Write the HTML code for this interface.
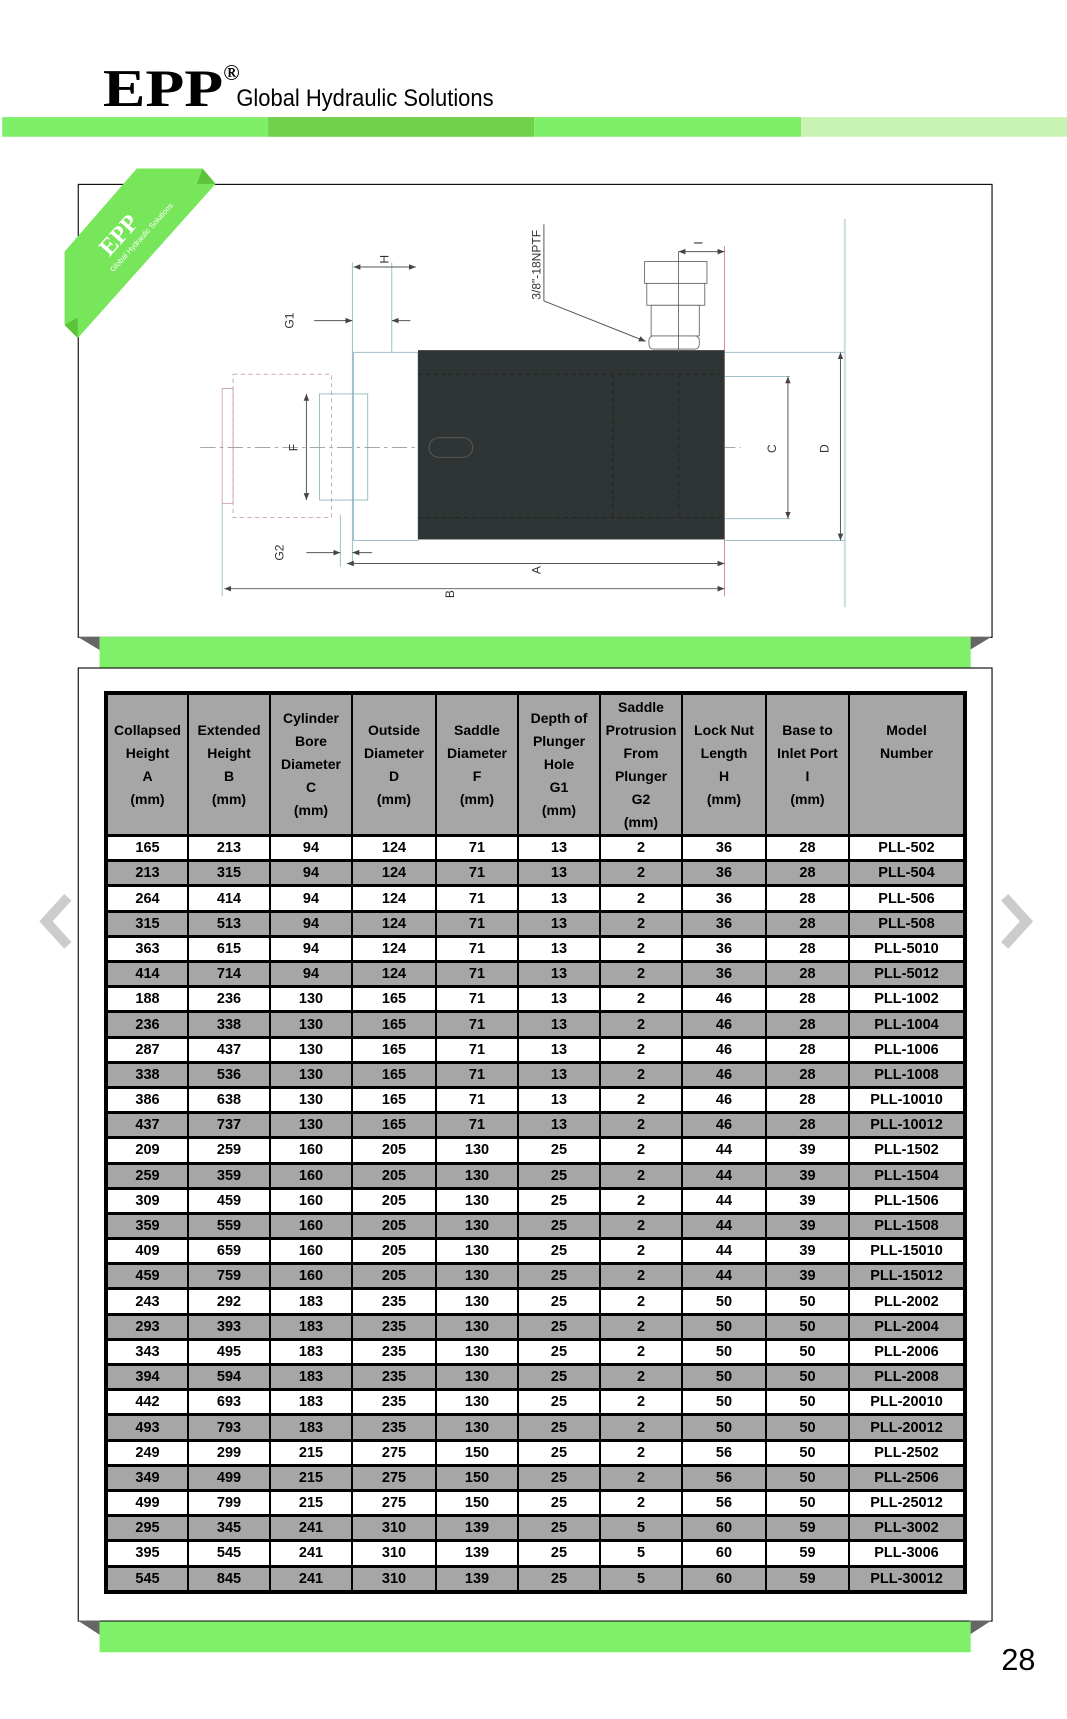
<!DOCTYPE html>
<html><head><meta charset="utf-8"><style>
html,body{margin:0;padding:0;background:#fff;}
body{width:1067px;height:1719px;position:relative;overflow:hidden;font-family:"Liberation Sans",sans-serif;}
svg.bg{position:absolute;left:0;top:0;}
table{position:absolute;left:104px;top:691px;width:863px;height:903px;border-collapse:collapse;table-layout:fixed;border:4px solid #000;
font-family:"Liberation Sans Narrow","Liberation Sans",sans-serif;font-weight:bold;font-size:14.5px;text-align:center;color:#000;}
td,th{border:2px solid #000;border-top:3px solid #000;padding:0;}
th{background:#a6a6a6;height:136px;line-height:23px;font-size:14px;}
td{height:22px;line-height:20px;}
tr.g td{background:#a6a6a6;}
</style></head><body>
<svg class="bg" width="1067" height="1719" viewBox="0 0 975 1571" preserveAspectRatio="none">
<defs>
<marker id="ar" viewBox="0 0 10 10" refX="10" refY="5" markerWidth="7" markerHeight="7" orient="auto-start-reverse"><path d="M0,1 L10,5 L0,9 z" fill="#444"/></marker>
</defs>
<text x="94" y="97" font-family="Liberation Serif" font-weight="bold" font-size="48" textLength="110" lengthAdjust="spacingAndGlyphs">EPP</text>
<text x="204" y="73" font-family="Liberation Serif" font-weight="bold" font-size="20">®</text>
<text x="216" y="97" font-family="Liberation Sans Narrow,Liberation Sans" font-size="22" textLength="235" lengthAdjust="spacingAndGlyphs">Global Hydraulic Solutions</text>
<rect x="2" y="107" width="243" height="18" fill="#7fef6a"/>
<rect x="245" y="107" width="243" height="18" fill="#6fd24a"/>
<rect x="488" y="107" width="244" height="18" fill="#7fef6a"/>
<rect x="732" y="107" width="243" height="18" fill="#c9f3b5"/>
<rect x="71.5" y="168.5" width="835" height="414" fill="#fff" stroke="#000" stroke-width="1"/>
<polygon points="71,582 91,582 91,594" fill="#666"/>
<polygon points="906,582 886,582 886,594" fill="#666"/>
<rect x="91" y="582" width="796" height="28" fill="#80f06a"/>
<polygon points="125,154 185,154 197,168 71,309 59,297 59,230" fill="#78e65a"/>
<polygon points="185,154 197,168 180,168" fill="#5cc43a"/>
<polygon points="59,297 71,309 71,290" fill="#5cc43a"/>
<g transform="translate(100,235) rotate(-48)"><text x="0" y="0" fill="#fff" font-family="Liberation Serif" font-weight="bold" font-size="22">EPP</text><text x="-8" y="12" fill="#fff" font-size="7">Global Hydraulic Solutions</text></g>
<g fill="none" stroke="#8fb8c0" stroke-width="0.8">
<rect x="323" y="322" width="59" height="172"/>
<rect x="213" y="342" width="90" height="131" stroke-dasharray="4,3" stroke="#c9a0a0"/>
<rect x="203" y="355" width="10" height="105" stroke="#c9a0a0"/>
<rect x="292" y="360" width="44" height="97"/>
<line x1="183" y1="409" x2="677" y2="409" stroke="#999" stroke-dasharray="14,4,3,4"/>
<line x1="322" y1="240" x2="322" y2="515"/>
<line x1="358" y1="240" x2="358" y2="322"/>
<line x1="311" y1="470" x2="311" y2="518"/>
<line x1="203" y1="460" x2="203" y2="545"/>
<line x1="662" y1="225" x2="662" y2="545" stroke="#d08080"/>
<line x1="772" y1="200" x2="772" y2="555" stroke="#cfdfe3" stroke-width="2"/>
<line x1="662" y1="322" x2="772" y2="322"/>
<line x1="662" y1="494" x2="772" y2="494"/>
<line x1="662" y1="344" x2="722" y2="344"/>
<line x1="662" y1="474" x2="722" y2="474"/>
</g>
<rect x="382" y="320" width="280" height="173" fill="#2f3434"/>
<g stroke="#222" stroke-width="0.8" fill="none" stroke-dasharray="4,3">
<line x1="382" y1="342" x2="662" y2="342"/><line x1="382" y1="473" x2="662" y2="473"/>
<line x1="560" y1="342" x2="560" y2="473"/><line x1="620" y1="342" x2="620" y2="473"/>
</g>
<rect x="392" y="400" width="40" height="18" rx="9" fill="none" stroke="#555"/>
<g fill="#fff" stroke="#666" stroke-width="0.8">
<rect x="589" y="239" width="57" height="20"/><rect x="591" y="259" width="53" height="20"/>
<rect x="595" y="279" width="44" height="28"/><rect x="593" y="307" width="46" height="12" rx="4"/>
</g>
<line x1="620" y1="230" x2="620" y2="322" stroke="#666" stroke-width="0.8"/>
<g stroke="#555" stroke-width="0.9" fill="none">
<line x1="323" y1="244" x2="380" y2="244" marker-start="url(#ar)" marker-end="url(#ar)"/>
<line x1="287" y1="293" x2="322" y2="293" marker-end="url(#ar)"/><line x1="375" y1="293" x2="358" y2="293" marker-end="url(#ar)"/>
<line x1="280" y1="505" x2="311" y2="505" marker-end="url(#ar)"/><line x1="340" y1="505" x2="322" y2="505" marker-end="url(#ar)"/>
<line x1="317" y1="515" x2="662" y2="515" marker-start="url(#ar)" marker-end="url(#ar)"/>
<line x1="205" y1="538" x2="662" y2="538" marker-start="url(#ar)" marker-end="url(#ar)"/>
<line x1="720" y1="344" x2="720" y2="474" marker-start="url(#ar)" marker-end="url(#ar)"/>
<line x1="768" y1="322" x2="768" y2="494" marker-start="url(#ar)" marker-end="url(#ar)"/>
<line x1="280" y1="360" x2="280" y2="457" marker-start="url(#ar)" marker-end="url(#ar)"/>
<line x1="620" y1="230" x2="662" y2="230" marker-start="url(#ar)" marker-end="url(#ar)"/>
<line x1="497" y1="275" x2="590" y2="312" marker-end="url(#ar)"/><line x1="497" y1="205" x2="497" y2="275"/>
</g>
<g font-family="Liberation Sans" font-size="11" fill="#333" text-anchor="middle">
<text transform="translate(494,521) rotate(-90)">A</text>
<text transform="translate(415,543) rotate(-90)">B</text>
<text transform="translate(709,410) rotate(-90)">C</text>
<text transform="translate(757,410) rotate(-90)">D</text>
<text transform="translate(272,409) rotate(-90)">F</text>
<text transform="translate(355,237) rotate(-90)">H</text>
<text transform="translate(268,293) rotate(-90)">G1</text>
<text transform="translate(259,505) rotate(-90)">G2</text>
<text transform="translate(642,222) rotate(-90)">I</text>
<text transform="translate(494,242) rotate(-90)">3/8"-18NPTF</text>
</g>
<rect x="71.5" y="610.5" width="835" height="871" fill="#fff" stroke="#000" stroke-width="1"/>
<polygon points="71,1481 91,1481 91,1494" fill="#666"/>
<polygon points="906,1481 886,1481 886,1494" fill="#666"/>
<rect x="91" y="1482" width="796" height="28" fill="#80f06a"/>
<polyline points="62,820 42,842 62,864" fill="none" stroke="#ccc" stroke-width="9"/>
<polyline points="918,820 938,842 918,864" fill="none" stroke="#ccc" stroke-width="9"/>
<text x="915" y="1526" font-family="Liberation Sans Narrow,Liberation Sans" font-size="28">28</text>
</svg>
<table>
<colgroup><col style="width:82px"><col style="width:82px"><col style="width:82px"><col style="width:84px"><col style="width:82px"><col style="width:82px"><col style="width:82px"><col style="width:84px"><col style="width:83px"><col></colgroup>
<tr><th>Collapsed<br>Height<br>A<br>(mm)</th><th>Extended<br>Height<br>B<br>(mm)</th><th>Cylinder<br>Bore<br>Diameter<br>C<br>(mm)</th><th>Outside<br>Diameter<br>D<br>(mm)</th><th>Saddle<br>Diameter<br>F<br>(mm)</th><th>Depth of<br>Plunger<br>Hole<br>G1<br>(mm)</th><th>Saddle<br>Protrusion<br>From<br>Plunger<br>G2<br>(mm)</th><th>Lock Nut<br>Length<br>H<br>(mm)</th><th>Base to<br>Inlet Port<br>I<br>(mm)</th><th>Model<br>Number<br><br><br></th></tr>
<tr><td>165</td><td>213</td><td>94</td><td>124</td><td>71</td><td>13</td><td>2</td><td>36</td><td>28</td><td>PLL-502</td></tr>
<tr class="g"><td>213</td><td>315</td><td>94</td><td>124</td><td>71</td><td>13</td><td>2</td><td>36</td><td>28</td><td>PLL-504</td></tr>
<tr><td>264</td><td>414</td><td>94</td><td>124</td><td>71</td><td>13</td><td>2</td><td>36</td><td>28</td><td>PLL-506</td></tr>
<tr class="g"><td>315</td><td>513</td><td>94</td><td>124</td><td>71</td><td>13</td><td>2</td><td>36</td><td>28</td><td>PLL-508</td></tr>
<tr><td>363</td><td>615</td><td>94</td><td>124</td><td>71</td><td>13</td><td>2</td><td>36</td><td>28</td><td>PLL-5010</td></tr>
<tr class="g"><td>414</td><td>714</td><td>94</td><td>124</td><td>71</td><td>13</td><td>2</td><td>36</td><td>28</td><td>PLL-5012</td></tr>
<tr><td>188</td><td>236</td><td>130</td><td>165</td><td>71</td><td>13</td><td>2</td><td>46</td><td>28</td><td>PLL-1002</td></tr>
<tr class="g"><td>236</td><td>338</td><td>130</td><td>165</td><td>71</td><td>13</td><td>2</td><td>46</td><td>28</td><td>PLL-1004</td></tr>
<tr><td>287</td><td>437</td><td>130</td><td>165</td><td>71</td><td>13</td><td>2</td><td>46</td><td>28</td><td>PLL-1006</td></tr>
<tr class="g"><td>338</td><td>536</td><td>130</td><td>165</td><td>71</td><td>13</td><td>2</td><td>46</td><td>28</td><td>PLL-1008</td></tr>
<tr><td>386</td><td>638</td><td>130</td><td>165</td><td>71</td><td>13</td><td>2</td><td>46</td><td>28</td><td>PLL-10010</td></tr>
<tr class="g"><td>437</td><td>737</td><td>130</td><td>165</td><td>71</td><td>13</td><td>2</td><td>46</td><td>28</td><td>PLL-10012</td></tr>
<tr><td>209</td><td>259</td><td>160</td><td>205</td><td>130</td><td>25</td><td>2</td><td>44</td><td>39</td><td>PLL-1502</td></tr>
<tr class="g"><td>259</td><td>359</td><td>160</td><td>205</td><td>130</td><td>25</td><td>2</td><td>44</td><td>39</td><td>PLL-1504</td></tr>
<tr><td>309</td><td>459</td><td>160</td><td>205</td><td>130</td><td>25</td><td>2</td><td>44</td><td>39</td><td>PLL-1506</td></tr>
<tr class="g"><td>359</td><td>559</td><td>160</td><td>205</td><td>130</td><td>25</td><td>2</td><td>44</td><td>39</td><td>PLL-1508</td></tr>
<tr><td>409</td><td>659</td><td>160</td><td>205</td><td>130</td><td>25</td><td>2</td><td>44</td><td>39</td><td>PLL-15010</td></tr>
<tr class="g"><td>459</td><td>759</td><td>160</td><td>205</td><td>130</td><td>25</td><td>2</td><td>44</td><td>39</td><td>PLL-15012</td></tr>
<tr><td>243</td><td>292</td><td>183</td><td>235</td><td>130</td><td>25</td><td>2</td><td>50</td><td>50</td><td>PLL-2002</td></tr>
<tr class="g"><td>293</td><td>393</td><td>183</td><td>235</td><td>130</td><td>25</td><td>2</td><td>50</td><td>50</td><td>PLL-2004</td></tr>
<tr><td>343</td><td>495</td><td>183</td><td>235</td><td>130</td><td>25</td><td>2</td><td>50</td><td>50</td><td>PLL-2006</td></tr>
<tr class="g"><td>394</td><td>594</td><td>183</td><td>235</td><td>130</td><td>25</td><td>2</td><td>50</td><td>50</td><td>PLL-2008</td></tr>
<tr><td>442</td><td>693</td><td>183</td><td>235</td><td>130</td><td>25</td><td>2</td><td>50</td><td>50</td><td>PLL-20010</td></tr>
<tr class="g"><td>493</td><td>793</td><td>183</td><td>235</td><td>130</td><td>25</td><td>2</td><td>50</td><td>50</td><td>PLL-20012</td></tr>
<tr><td>249</td><td>299</td><td>215</td><td>275</td><td>150</td><td>25</td><td>2</td><td>56</td><td>50</td><td>PLL-2502</td></tr>
<tr class="g"><td>349</td><td>499</td><td>215</td><td>275</td><td>150</td><td>25</td><td>2</td><td>56</td><td>50</td><td>PLL-2506</td></tr>
<tr><td>499</td><td>799</td><td>215</td><td>275</td><td>150</td><td>25</td><td>2</td><td>56</td><td>50</td><td>PLL-25012</td></tr>
<tr class="g"><td>295</td><td>345</td><td>241</td><td>310</td><td>139</td><td>25</td><td>5</td><td>60</td><td>59</td><td>PLL-3002</td></tr>
<tr><td>395</td><td>545</td><td>241</td><td>310</td><td>139</td><td>25</td><td>5</td><td>60</td><td>59</td><td>PLL-3006</td></tr>
<tr class="g"><td>545</td><td>845</td><td>241</td><td>310</td><td>139</td><td>25</td><td>5</td><td>60</td><td>59</td><td>PLL-30012</td></tr>
</table>
</body></html>
